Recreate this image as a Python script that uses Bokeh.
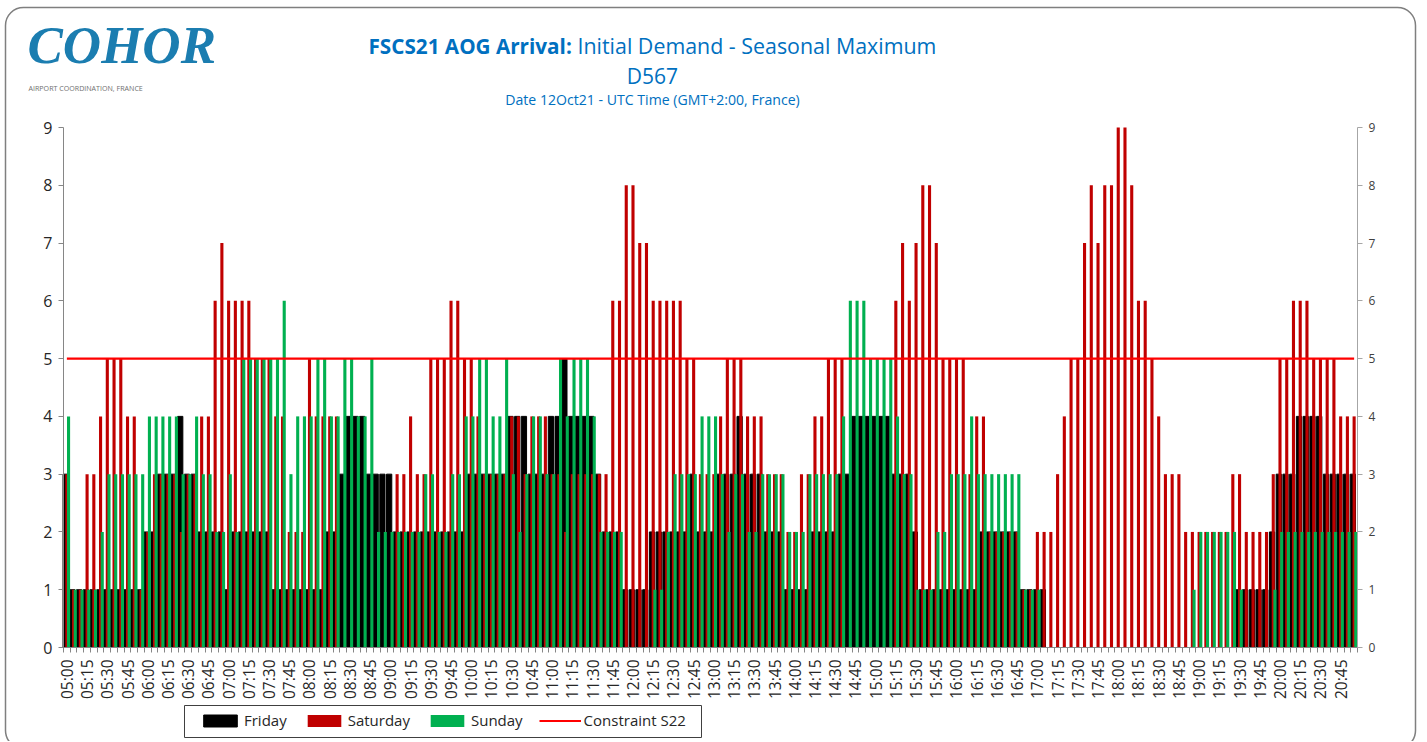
import numpy as np
from bokeh.plotting import figure
from bokeh.models import (Range1d, LinearAxis, FixedTicker, Label, BoxAnnotation, Legend, LegendItem,
                          ColumnDataSource)
from bokeh.embed import file_html
from bokeh.resources import INLINE

friday = [
 3,1,1,1,1,1,1,1,1,1,1,1,
 2,2,3,3,3,4,3,3,2,2,2,2,
 1,2,2,2,2,2,2,1,1,1,1,1,
 1,1,1,2,2,3,4,4,4,3,3,3,
 3,2,2,2,2,2,2,2,2,2,2,2,
 3,3,3,3,3,3,4,4,4,3,3,3,
 4,4,5,4,4,4,4,3,2,2,2,1,
 1,1,1,2,2,2,2,2,2,3,2,2,
 2,3,3,3,4,3,3,3,2,2,2,1,
 1,1,1,2,2,2,2,3,3,4,4,4,
 4,4,4,3,3,3,2,1,1,1,1,1,
 1,1,1,1,2,2,2,2,2,2,1,1,
 1,1,0,0,0,0,0,0,0,0,0,0,
 0,0,0,0,0,0,0,0,0,0,0,0,
 0,0,0,0,0,0,1,1,1,1,1,2,
 3,3,3,4,4,4,4,3,3,3,3,3]
saturday = [
 3,1,1,3,3,4,5,5,5,4,4,1,
 2,3,3,3,3,2,3,3,4,4,6,7,
 6,6,6,6,5,5,5,4,4,2,2,2,
 5,4,4,4,4,0,0,0,0,0,0,0,
 0,3,3,4,3,3,5,5,5,6,6,5,
 5,4,3,3,3,3,4,4,3,4,4,4,
 3,3,2,3,3,3,3,3,3,6,6,8,
 8,7,7,6,6,6,6,6,5,5,3,3,
 3,4,5,5,5,4,4,4,3,3,3,2,
 2,3,3,4,4,5,5,5,0,0,0,0,
 0,0,0,6,7,6,7,8,8,7,5,5,
 5,5,3,4,4,2,2,2,2,2,1,1,
 2,2,2,3,4,5,5,7,8,7,8,8,
 9,9,8,6,6,5,4,3,3,3,2,2,
 2,2,2,2,2,3,3,2,2,2,2,3,
 5,5,6,6,6,5,5,5,5,4,4,4]
sunday = [
 4,1,1,1,1,2,3,3,3,3,3,3,
 4,4,4,4,4,3,3,4,3,3,2,2,
 3,2,5,5,5,5,5,5,6,3,4,4,
 4,5,5,4,4,5,5,4,4,5,2,2,
 2,2,2,2,2,3,3,2,2,3,3,4,
 4,5,5,4,4,5,3,2,3,4,4,3,
 3,5,4,5,5,5,4,2,2,2,2,0,
 0,0,0,1,1,2,3,3,3,3,4,4,
 4,3,2,3,3,2,2,3,3,3,3,2,
 2,2,3,3,3,3,3,4,6,6,6,5,
 5,5,5,4,3,3,1,1,1,2,2,3,
 3,3,4,3,3,3,3,3,3,3,1,1,
 1,0,0,0,0,0,0,0,0,0,0,0,
 0,0,0,0,0,0,0,0,0,0,0,1,
 2,2,2,2,2,2,1,0,0,0,0,1,
 2,2,2,2,2,2,2,2,2,2,2,2]
constraint = [5] * 192
slots = [f"{h:02d}:{m:02d}" for h in range(5, 21) for m in range(0, 60, 5)]

XL, XR, Y0, Y9 = 63, 1357, 647, 127
W, H = 1425, 741
UX = (XR - XL) / 192
UY = (Y0 - Y9) / 9
def X(px): return (px - XL) / UX
def Y(py): return (Y0 - py) / UY

p = figure(width=W, height=H, output_backend="svg", toolbar_location=None,
           x_range=Range1d(X(0), X(W)), y_range=Range1d(Y(H), Y(0)),
           min_border=0, x_axis_type=None, y_axis_type=None, outline_line_color=None)
p.grid.visible = False

idx = np.arange(192)
src = ColumnDataSource(dict(xf=idx + 0.32, xs=idx + 0.5, xu=idx + 0.75, xc=idx + 0.5,
                            friday=friday, saturday=saturday, sunday=sunday, constraint=constraint))
rf = p.vbar(x="xf", top="friday", width=0.78, bottom=0, fill_color="#000000", line_color="#000000",
            line_width=1, line_join="round", source=src)
rs = p.vbar(x="xs", top="saturday", width=0.46, bottom=0, color="#C00000", line_width=0, source=src)
ru = p.vbar(x="xu", top="sunday", width=0.46, bottom=0, color="#00B050", line_width=0, source=src)
rc = p.line(x="xc", y="constraint", line_color="#FF0000", line_width=2.2, source=src)

xa = LinearAxis(ticker=FixedTicker(ticks=[i + 0.5 for i in range(0, 192, 3)], minor_ticks=list(range(0, 193))),
                major_label_overrides={i + 0.5: slots[i] for i in range(0, 192, 3)},
                major_label_orientation=np.pi / 2, major_label_text_font="Open Sans",
                major_label_text_font_size="15.5px", major_label_text_color="#262626",
                major_tick_line_color=None, major_label_standoff=6,
                minor_tick_line_color="#868686", minor_tick_out=5, minor_tick_in=0,
                axis_line_color="#868686", fixed_location=0, bounds=(0, 192))
p.add_layout(xa, "below")
ly = LinearAxis(ticker=FixedTicker(ticks=list(range(10))), major_label_text_font="Open Sans",
                major_label_text_font_size="16px", major_label_text_color="#262626",
                major_tick_line_color="#868686", major_tick_out=5, major_tick_in=0,
                major_label_standoff=6, minor_tick_line_color=None, axis_line_color="#868686",
                fixed_location=0, bounds=(0, 9))
p.add_layout(ly, "left")
ry = LinearAxis(ticker=FixedTicker(ticks=list(range(10))), major_label_text_font="Open Sans",
                major_label_text_font_size="12px", major_label_text_color="#404040",
                major_tick_line_color="#A6A6A6", major_tick_out=5, major_tick_in=0,
                major_label_standoff=6, minor_tick_line_color=None, axis_line_color="#A6A6A6",
                fixed_location=192, bounds=(0, 9))
p.add_layout(ry, "right")

p.add_layout(BoxAnnotation(left=X(184), right=X(701), top=Y(705), bottom=Y(737),
                           fill_color="white", fill_alpha=1, line_color="#404040", line_alpha=1, line_width=1))
leg = Legend(items=[LegendItem(label="Friday", renderers=[rf]), LegendItem(label="Saturday", renderers=[rs]),
                    LegendItem(label="Sunday", renderers=[ru]), LegendItem(label="Constraint S22", renderers=[rc])],
             orientation="horizontal", location=(199, H - 730),
             label_text_font="Open Sans", label_text_font_size="15px", label_text_color="#262626",
             glyph_width=42, glyph_height=15, spacing=16, padding=5, margin=0, label_standoff=3,
             border_line_color=None, background_fill_alpha=0)
p.add_layout(leg, "center")

def lab(px, py, text, size, color, font="Open Sans", style="normal", align="left"):
    p.add_layout(Label(x=X(px), y=Y(py), text=text, text_font=font,
                       text_font_size=f"{size}px", text_color=color, text_font_style=style,
                       text_align=align, text_baseline="middle"))

BLUE = "#0070C0"
lab(368, 45, "FSCS21 AOG Arrival:", 20.7, BLUE, style="bold")
lab(577, 45, "Initial Demand - Seasonal Maximum", 21.4, BLUE)
lab(652, 75, "D567", 21, BLUE, align="center")
lab(652, 99, "Date 12Oct21 - UTC Time (GMT+2:00, France)", 14.1, BLUE, align="center")
lab(27, 44, "COHOR", 53, "#1B7DB0", font="Liberation Serif", style="bold italic")
lab(28, 87, "AIRPORT COORDINATION, FRANCE", 7.1, "#6F6F6F")

p.add_layout(BoxAnnotation(left=X(5), right=X(1415), top=Y(7), bottom=Y(748),
                           fill_alpha=0, line_color="#7F7F7F", line_alpha=1, line_width=1.5, border_radius=18))

open("out.html", "w").write(file_html(p, INLINE))
